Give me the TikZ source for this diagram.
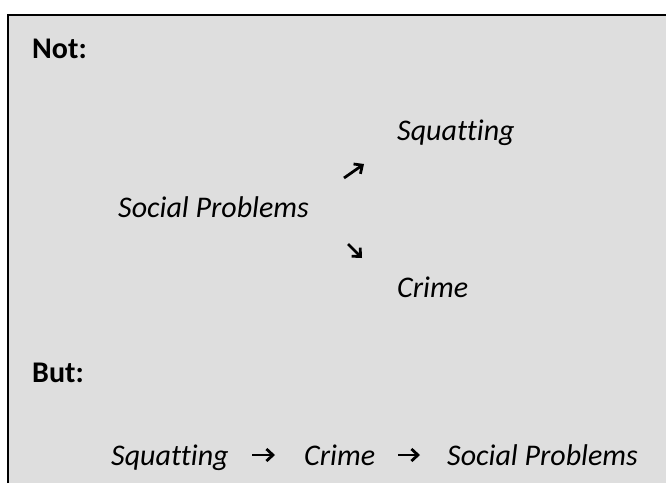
\documentclass[tikz,border=0pt]{standalone}
\usepackage{fontspec}
\setmainfont[Ligatures=NoCommon]{Carlito}
\usetikzlibrary{arrows.meta}
\definecolor{boxgrey}{HTML}{DEDEDE}
\tikzset{
  lbl/.style={anchor=base west, inner sep=0pt, font=\fontsize{30}{36}\selectfont\itshape},
  head/.style={anchor=base west, inner sep=0pt, font=\fontsize{30}{36}\selectfont\bfseries},
  arr/.style={line width=2.8pt, -{Straight Barb[length=6.5pt,width=12pt,line width=2.8pt]}}
}
\begin{document}
\begin{tikzpicture}[x=1pt,y=-1pt]
\useasboundingbox (0,0) rectangle (666,483);
\fill[white] (0,0) rectangle (666,483);
\fill[boxgrey] (8,15) rectangle (666,483);
\draw[line width=2.4pt] (7.8,483) -- (7.8,15) -- (666,15);
\node[head] (not) at (32,58) {Not:};
\node[lbl] (sq1) at (397,140) {Squatting};
\node[lbl] (sp1) at (118,217) {Social Problems};
\node[lbl] (cr1) at (397,297) {Crime};
\node[head] (but) at (32,382) {But:};
\node[lbl] (sq2) at (111,465) {Squatting};
\node[lbl] (cr2) at (304,465) {Crime};
\node[lbl] (sp2) at (447,465) {Social Problems};
\coordinate (a1s) at (344,178);
\coordinate (a1e) at (364,164);
\coordinate (a2s) at (348,244);
\coordinate (a2e) at (362,258);
\coordinate (b1s) at (252,455);
\coordinate (b1e) at (275,455);
\coordinate (b2s) at (398,455);
\coordinate (b2e) at (420,455);
\draw[arr] (a1s) -- (a1e);
\draw[arr] (a2s) -- (a2e);
\draw[arr] (b1s) -- (b1e);
\draw[arr] (b2s) -- (b2e);
\end{tikzpicture}
\end{document}
